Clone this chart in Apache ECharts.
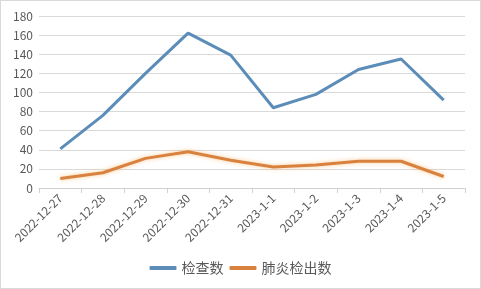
<!DOCTYPE html>
<html>
<head>
<meta charset="utf-8">
<script src="https://cdn.jsdelivr.net/npm/echarts@6/dist/echarts.min.js"></script>
<style>
  html, body { margin: 0; padding: 0; background: #fff; }
  #main { width: 481px; height: 289px; box-sizing: border-box; border: 1px solid #d9d9d9; }
</style>
</head>
<body>
<div id="main"></div>
<script>
var dates = ["2022-12-27", "2022-12-28", "2022-12-29", "2022-12-30", "2022-12-31",
  "2023-1-1", "2023-1-2", "2023-1-3", "2023-1-4", "2023-1-5"];
var checks = [41, 76, 120, 162, 139, 84, 98, 124, 135, 92]; // 检查数
var pneumonia = [10, 16, 31, 38, 29, 22, 24, 28, 28, 12]; // 肺炎检出数
var yTicks = [0, 20, 40, 60, 80, 100, 120, 140, 160, 180];

var myChart = echarts.init(document.getElementById("main"));
var font = "'Noto Sans CJK SC', 'DejaVu Sans', sans-serif";
myChart.setOption({
  backgroundColor: "#fff",
  animation: false,
  textStyle: { fontFamily: font },
  grid: { left: 38, right: 15, top: 15, bottom: 100, containLabel: false },
  legend: {
    bottom: 8,
    left: "center",
    itemWidth: 27,
    itemHeight: 4,
    itemGap: 6,
    icon: "roundRect",
    textStyle: { color: "#595959", fontSize: 14, fontFamily: font },
    data: ["检查数", "肺炎检出数"]
  },
  xAxis: {
    type: "category",
    boundaryGap: true,
    data: dates,
    axisLine: { lineStyle: { color: "#d0d0d0" } },
    axisTick: { show: true, length: 5, lineStyle: { color: "#d0d0d0" } },
    axisLabel: { rotate: 45, color: "#595959", fontSize: 12, margin: 8, interval: 0 }
  },
  yAxis: {
    type: "value",
    min: yTicks[0],
    max: yTicks[yTicks.length - 1],
    interval: 20,
    axisLine: { show: false },
    axisTick: { show: false },
    splitLine: { lineStyle: { color: "#d9d9d9" } },
    axisLabel: { color: "#595959", fontSize: 12, margin: 6 }
  },
  series: [
    {
      name: "检查数",
      type: "line",
      data: checks,
      symbol: "none",
      color: "#5b8db8",
      lineStyle: { width: 3, color: "#5b8db8" }
    },
    {
      name: "肺炎检出数",
      type: "line",
      data: pneumonia,
      symbol: "none",
      color: "#d9823f",
      lineStyle: { width: 3, color: "#d9823f", shadowColor: "rgba(250,190,120,0.8)", shadowBlur: 4 }
    }
  ]
});
</script>
</body>
</html>
